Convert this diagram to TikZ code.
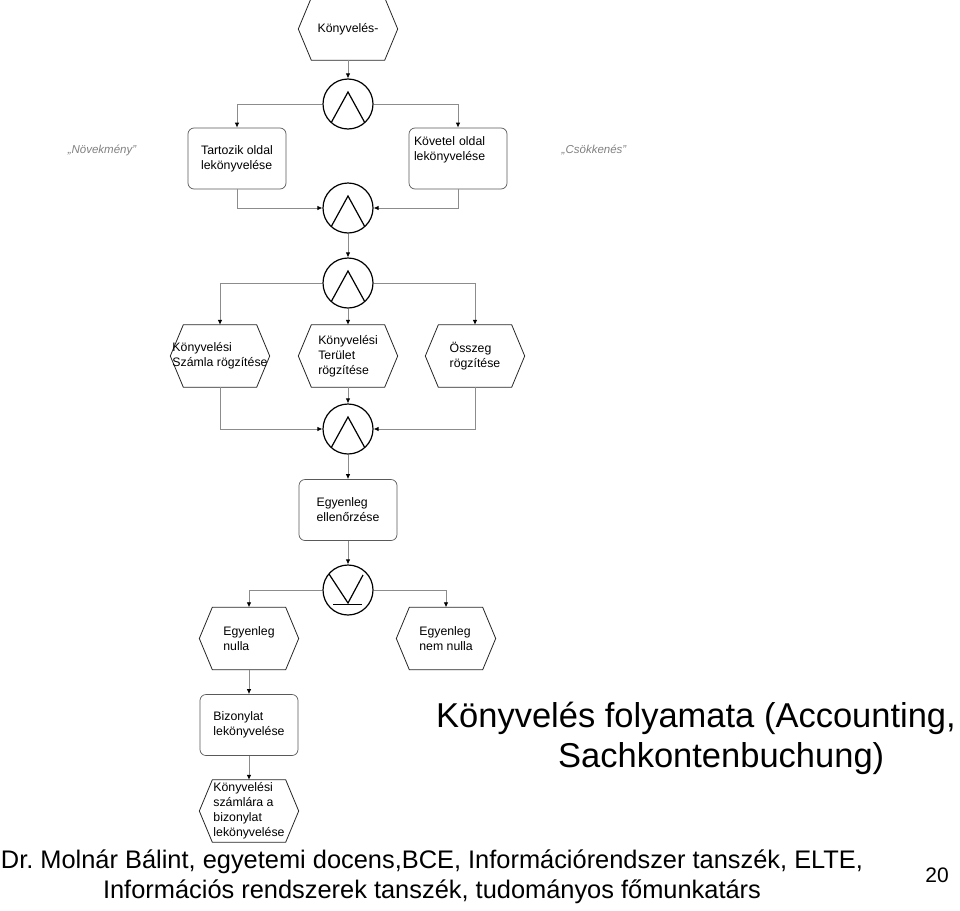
\documentclass[tikz,border=0pt]{standalone}
\usepackage{fontspec}
\setmainfont{Liberation Sans}
\usetikzlibrary{arrows.meta}

\tikzset{
  flow/.style={draw=black!45, line width=0.8pt, -{Latex[length=5pt,width=4.5pt,color=black]}},
  funcbox/.style={draw=black!65, line width=0.7pt, rounded corners=6pt, minimum width=98pt, minimum height=61pt,
    inner sep=0pt, align=left, font=\fontsize{12.3}{15}\selectfont},
  eventhex/.style={minimum width=99pt, minimum height=62pt, inner sep=0pt, align=left,
    font=\fontsize{12.3}{15}\selectfont,
    append after command={\pgfextra{\let\hexnode\tikzlastnode
      \draw[black!85, line width=0.8pt] (\hexnode.west) -- ([xshift=13pt]\hexnode.north west)
        -- ([xshift=-13pt]\hexnode.north east) -- (\hexnode.east)
        -- ([xshift=-13pt]\hexnode.south east) -- ([xshift=13pt]\hexnode.south west) -- cycle;}}},
  andconn/.style={circle, draw, line width=1.2pt, minimum size=50pt, inner sep=0pt,
    path picture={\draw[line width=1.2pt]
      ([shift={(-17pt,-19pt)}]path picture bounding box.center)
      -- ([shift={(0pt,12pt)}]path picture bounding box.center)
      -- ([shift={(17pt,-19pt)}]path picture bounding box.center);}},
  xorconn/.style={circle, draw, line width=1.2pt, minimum size=50pt, inner sep=0pt,
    path picture={\draw[line width=1.2pt]
      ([shift={(-19pt,16pt)}]path picture bounding box.center)
      -- ([shift={(0pt,-13pt)}]path picture bounding box.center)
      -- ([shift={(15pt,15pt)}]path picture bounding box.center);
      \draw[line width=1pt] ([shift={(-15pt,-14pt)}]path picture bounding box.center)
      -- ([shift={(14pt,-14pt)}]path picture bounding box.center);}},
  remark/.style={text=black!50, font=\fontsize{11.5}{13}\selectfont\itshape}
}

\begin{document}
\begin{tikzpicture}[x=1pt, y=-1pt]
        \useasboundingbox (0,0) rectangle (960,910);
        % Nodes (top to bottom)
        \node (start) at (348,29) [eventhex] {K\"onyvel\'es-};
        \node (and1) at (348,104) [andconn] {};
        \node (tartozik) at (237,158.5) [funcbox] {Tartozik oldal\\lek\"onyvel\'ese};
        \node (kovetel) at (458,158.5) [funcbox, text width=88pt] {K\"ovetel oldal\\lek\"onyvel\'ese\\[4pt]\mbox{}};
        \node (novek) at (102,150) [remark] {„N\"ovekm\'eny”};
        \node (csokk) at (594,150) [remark] {„Cs\"okken\'es”};
        \node (and2) at (348,208) [andconn] {};
        \node (and3) at (348,283) [andconn] {};
        \node (szamla) at (220,356) [eventhex] {K\"onyvel\'esi\\Sz\'amla r\"ogz\'it\'ese};
        \node (terulet) at (348,356) [eventhex] {K\"onyvel\'esi\\Ter\"ulet\\r\"ogz\'it\'ese};
        \node (osszeg) at (475,356) [eventhex] {\"Osszeg\\r\"ogz\'it\'ese};
        \node (and4) at (348,429) [andconn] {};
        \node (ellenorzes) at (348,510) [funcbox] {Egyenleg\\ellen\H{o}rz\'ese};
        \node (xor1) at (348,590) [xorconn] {};
        \node (nulla) at (249,638.5) [eventhex] {Egyenleg\\nulla};
        \node (nemnulla) at (446,638.5) [eventhex] {Egyenleg\\nem nulla};
        \node (bizonylat) at (249,725) [funcbox] {Bizonylat\\lek\"onyvel\'ese};
        \node (szamlara) at (249,811) [eventhex] {K\"onyvel\'esi\\sz\'aml\'ara a\\bizonylat\\lek\"onyvel\'ese};
        % Title and footer
        \node (title) at (696,738) [align=left, font=\fontsize{34.5}{40}\selectfont]
          {K\"onyvel\'es folyamata (Accounting,\\\hspace*{122pt}Sachkontenbuchung)};
        \node (footA) at (432,862) [font=\fontsize{25.4}{30}\selectfont]
          {Dr.\ Moln\'ar B\'alint, egyetemi docens,BCE, Inform\'aci\'orendszer tansz\'ek, ELTE,};
        \node (footB) at (432,892) [font=\fontsize{25.4}{30}\selectfont]
          {Inform\'aci\'os rendszerek tansz\'ek, tudom\'anyos f\H{o}munkat\'ars};
        \node (pagenum) at (937,875) [font=\fontsize{21}{24}\selectfont] {20};
        % Edges
        \draw[flow] (start) -- (and1);
        \draw[flow] (and1) -| (tartozik);
        \draw[flow] (and1) -| (kovetel);
        \draw[flow] (tartozik) |- (and2);
        \draw[flow] (kovetel) |- (and2);
        \draw[flow] (and2) -- (and3);
        \draw[flow] (and3) -| (szamla);
        \draw[flow] (and3) -- (terulet);
        \draw[flow] (and3) -| (osszeg);
        \draw[flow] (szamla) |- (and4);
        \draw[flow] (terulet) -- (and4);
        \draw[flow] (osszeg) |- (and4);
        \draw[flow] (and4) -- (ellenorzes);
        \draw[flow] (ellenorzes) -- (xor1);
        \draw[flow] (xor1) -| (nulla);
        \draw[flow] (xor1) -| (nemnulla);
        \draw[flow] (nulla) -- (bizonylat);
        \draw[flow] (bizonylat) -- (szamlara);
\end{tikzpicture}
\end{document}
